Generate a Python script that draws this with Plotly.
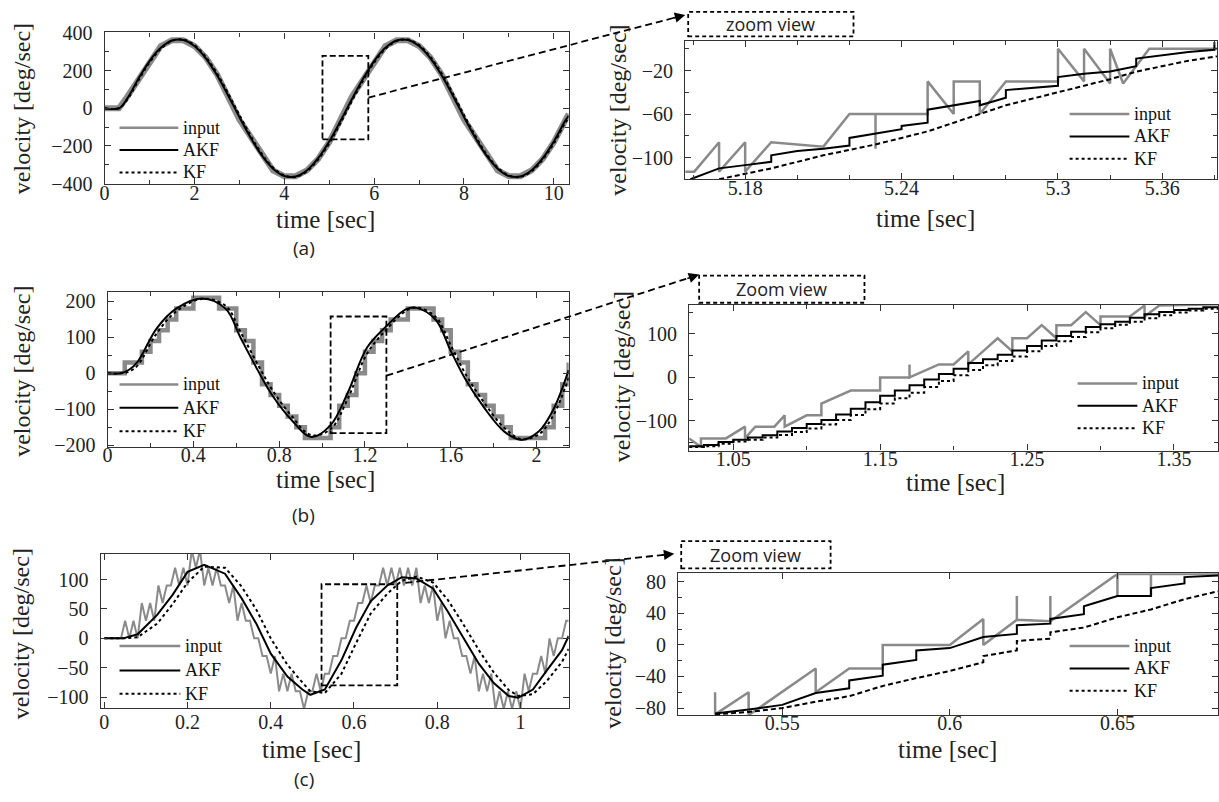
import plotly.graph_objects as go

W, H = 1219, 802

# ---------------- data ----------------
# (a) overview
a_t = [0, 0.32, 0.5, 0.75, 1.0, 1.25, 1.5, 1.75, 2.0, 2.25, 2.5, 2.75, 3.0, 3.25, 3.5, 3.75,
       4.0, 4.25, 4.5, 4.75, 5.0, 5.25, 5.5, 5.75, 6.0, 6.25, 6.5, 6.75, 7.0, 7.25, 7.5, 7.75,
       8.0, 8.25, 8.5, 8.75, 9.0, 9.25, 9.5, 9.75, 10.0, 10.25, 10.33]
a_input = [0, 0, 60, 150, 240, 330, 360, 360, 330, 270, 180, 60, -60, -150, -240, -330,
           -360, -360, -330, -270, -180, -60, 60, 150, 240, 330, 360, 360, 330, 270, 180, 60,
           -60, -150, -240, -330, -360, -360, -330, -270, -180, -60, -30]
a_akf = [0, 0, 50, 155, 250, 320, 359, 362, 330, 266, 176, 68, -46, -155, -250, -320,
         -359, -362, -330, -266, -176, -68, 46, 155, 250, 320, 359, 362, 330, 266, 176, 68,
         -46, -155, -250, -320, -359, -362, -330, -266, -176, -68, -40]
a_kf = [0, 0, 44, 146, 242, 315, 357, 364, 335, 273, 186, 79, -35, -145, -242, -314,
        -356, -364, -335, -273, -186, -79, 35, 145, 242, 314, 356, 364, 335, 273, 186, 79,
        -35, -145, -242, -314, -356, -364, -335, -273, -186, -79, -50]

# (a) zoom view
az_in_t = [5.157, 5.1605, 5.17, 5.17, 5.18, 5.18, 5.19, 5.21, 5.22, 5.23, 5.23, 5.23, 5.25, 5.25,
           5.26, 5.26, 5.27, 5.27, 5.28, 5.30, 5.30, 5.31, 5.31, 5.32, 5.32, 5.325, 5.335, 5.361]
az_in_v = [-113, -113, -86, -113, -86, -113, -86, -90, -60, -60, -92, -60, -60, -30,
           -60, -30, -30, -60, -30, -30, 0, -30, 0, -32, 0, -32, 0, 0]
az_akf_t = [5.159, 5.17, 5.18, 5.19, 5.19, 5.20, 5.21, 5.22, 5.22, 5.23, 5.24, 5.24, 5.25, 5.25, 5.26,
            5.27, 5.27, 5.28, 5.28, 5.29, 5.30, 5.30, 5.31, 5.32, 5.33, 5.33, 5.34, 5.35, 5.36, 5.36]
az_akf_v = [-120, -110, -107, -104, -98, -94, -92, -89, -82, -78, -74, -71, -68, -56, -52,
            -48, -52, -45, -38, -36, -34, -26, -23, -21, -16, -9, -6, -3, -1, 6]
az_kf_t = [5.17, 5.18, 5.19, 5.20, 5.21, 5.22, 5.23, 5.24, 5.25, 5.26, 5.27, 5.28, 5.29, 5.30,
           5.31, 5.32, 5.33, 5.34, 5.35, 5.361]
az_kf_v = [-120, -115, -110, -104, -98, -93, -88, -82, -76, -68, -60, -52, -46, -40,
           -34, -28, -21, -16, -11, -7]

# (b) overview
b_t = [0, 0.06, 0.10, 0.14, 0.23, 0.32, 0.44, 0.55, 0.62, 0.70, 0.77, 0.86, 0.95, 1.04,
       1.12, 1.21, 1.30, 1.39, 1.44, 1.53, 1.60, 1.67, 1.76, 1.85, 1.93, 2.01, 2.08, 2.15]
b_akf = [0, 0, 10, 32, 126, 180, 208, 180, 99, 9, -63, -131, -177, -144,
         -54, 72, 131, 178, 182, 149, 63, -18, -99, -162, -185, -162, -99, 9]
b_kf = [0, 0, 5, 22, 112, 172, 207, 188, 115, 25, -48, -120, -172, -155,
        -70, 55, 122, 173, 183, 157, 78, -3, -85, -152, -183, -170, -115, -12]
b_in_t = [0, 0.04, 0.08, 0.12, 0.16, 0.20, 0.24, 0.28, 0.32, 0.36, 0.40, 0.44, 0.48, 0.52,
          0.56, 0.60, 0.64, 0.68, 0.72, 0.76, 0.80, 0.84, 0.88, 0.92, 0.96, 1.00, 1.04, 1.08,
          1.12, 1.16, 1.20, 1.24, 1.28, 1.32, 1.36, 1.40, 1.44, 1.48, 1.52, 1.56, 1.60, 1.64,
          1.68, 1.72, 1.76, 1.80, 1.84, 1.88, 1.92, 1.96, 2.00, 2.04, 2.08, 2.12, 2.15]
b_in_v = [0, 0, 30, 30, 60, 90, 120, 150, 180, 180, 210, 210, 210, 180,
          180, 120, 90, 30, -30, -60, -90, -120, -150, -180, -180, -180, -150, -90,
          -60, 0, 60, 90, 120, 150, 150, 180, 180, 180, 150, 120, 60, 30,
          -30, -60, -90, -120, -150, -180, -180, -180, -180, -150, -90, -30, 30]

# (b) zoom view
bz_in_t = [1.020, 1.028, 1.028, 1.045, 1.058, 1.058, 1.065, 1.078, 1.085, 1.085, 1.10, 1.11, 1.11,
           1.13, 1.15, 1.15, 1.17, 1.17, 1.17, 1.19, 1.20, 1.21, 1.21, 1.22, 1.23, 1.24, 1.24,
           1.25, 1.26, 1.27, 1.27, 1.28, 1.29, 1.30, 1.30, 1.32, 1.33, 1.33, 1.34, 1.38]
bz_in_v = [-140, -160, -140, -140, -113, -140, -113, -113, -87, -113, -87, -87, -60,
           -30, -30, 0, 0, 30, 0, 30, 30, 60, 30, 60, 90, 60, 90,
           90, 120, 90, 120, 120, 150, 120, 140, 140, 165, 140, 165, 168]
bz_t = [1.02, 1.03, 1.04, 1.05, 1.06, 1.07, 1.08, 1.09, 1.10, 1.11, 1.12, 1.13, 1.14, 1.15,
        1.16, 1.17, 1.18, 1.19, 1.20, 1.21, 1.22, 1.23, 1.24, 1.25, 1.26, 1.27, 1.28, 1.29,
        1.30, 1.31, 1.32, 1.33, 1.34, 1.35, 1.36, 1.37, 1.38]
bz_akf = [-158, -155, -148, -143, -138, -133, -124, -116, -107, -98, -85, -72, -57, -42,
          -30, -18, -5, 8, 20, 33, 42, 52, 62, 72, 85, 95, 105, 116,
          122, 128, 137, 145, 150, 155, 158, 161, 163]
bz_kf = [-160, -158, -152, -147, -143, -138, -132, -125, -117, -108, -98, -86, -73, -60,
         -48, -35, -22, -8, 5, 17, 28, 38, 48, 60, 72, 83, 93, 104,
         113, 121, 128, 136, 143, 149, 154, 158, 162]

# (c) overview
c_t = [0, 0.045, 0.08, 0.127, 0.164, 0.2, 0.24, 0.29, 0.33, 0.366, 0.40, 0.44, 0.476, 0.495,
       0.53, 0.57, 0.605, 0.64, 0.68, 0.715, 0.75, 0.79, 0.825, 0.862, 0.90, 0.936, 0.972,
       0.995, 1.03, 1.064, 1.10, 1.116]
c_akf = [0, 0, 7, 40, 74, 113, 125, 110, 68, 24, -26, -65, -87, -96,
         -87, -37, 18, 63, 90, 104, 102, 85, 46, 2, -43, -76, -98,
         -101, -87, -54, -20, 4]
c_kf = [0, 0, 2, 25, 58, 95, 122, 120, 88, 48, 0, -45, -75, -90,
        -93, -60, -8, 42, 76, 98, 105, 95, 66, 25, -20, -58, -88,
        -98, -95, -72, -40, -18]
c_in_t = [0.00, 0.01, 0.02, 0.03, 0.04, 0.05, 0.06, 0.07, 0.08, 0.09,
          0.10, 0.11, 0.12, 0.13, 0.14, 0.15, 0.16, 0.17, 0.18, 0.19,
          0.20, 0.21, 0.22, 0.23, 0.24, 0.25, 0.26, 0.27, 0.28, 0.29,
          0.30, 0.31, 0.32, 0.33, 0.34, 0.35, 0.36, 0.37, 0.38, 0.39,
          0.40, 0.41, 0.42, 0.43, 0.44, 0.45, 0.46, 0.47, 0.48, 0.49,
          0.50, 0.51, 0.52, 0.53, 0.54, 0.55, 0.56, 0.57, 0.58, 0.59,
          0.60, 0.61, 0.62, 0.63, 0.64, 0.65, 0.66, 0.67, 0.68, 0.69,
          0.70, 0.71, 0.72, 0.73, 0.74, 0.75, 0.76, 0.77, 0.78, 0.79,
          0.80, 0.81, 0.82, 0.83, 0.84, 0.85, 0.86, 0.87, 0.88, 0.89,
          0.90, 0.91, 0.92, 0.93, 0.94, 0.95, 0.96, 0.97, 0.98, 0.99,
          1.00, 1.01, 1.02, 1.03, 1.04, 1.05, 1.06, 1.07, 1.08, 1.09,
          1.10, 1.11, 1.116]
c_in_v = [0, 0, 0, 0, 0, 30, 0, 30, 0, 60,
          30, 60, 30, 90, 60, 90, 90, 120, 90, 120,
          90, 150, 120, 150, 90, 120, 90, 120, 90, 90,
          60, 90, 30, 60, 30, 30, 0, 0, -30, -30,
          -60, -30, -90, -60, -90, -60, -90, -90, -120, -90,
          -90, -60, -90, -60, -60, -30, -30, 0, 0, 30,
          30, 60, 60, 90, 60, 90, 90, 120, 90, 120,
          90, 120, 90, 120, 90, 120, 60, 90, 60, 90,
          30, 60, 0, 30, 0, 0, -30, -30, -60, -30,
          -90, -60, -90, -60, -120, -90, -120, -90, -120, -90,
          -120, -60, -90, -60, -60, -30, -60, 0, -30, 0,
          0, 30, 30]

# (c) zoom view
cz_in_t = [0.53, 0.53, 0.54, 0.54, 0.56, 0.56, 0.57, 0.58, 0.58, 0.60, 0.61, 0.61, 0.62, 0.62,
           0.62, 0.63, 0.63, 0.63, 0.65, 0.65, 0.65, 0.66, 0.66, 0.66, 0.68]
cz_in_v = [-60, -88, -60, -89, -30, -60, -30, -30, 0, 0, 33, 0, 32, 62,
           32, 30, 62, 30, 90, 62, 90, 90, 62, 90, 90]
cz_akf_t = [0.53, 0.54, 0.55, 0.56, 0.57, 0.57, 0.58, 0.58, 0.59, 0.59, 0.60, 0.61, 0.62, 0.62,
            0.63, 0.63, 0.64, 0.64, 0.65, 0.66, 0.66, 0.67, 0.67, 0.68]
cz_akf_v = [-87, -82, -76, -61, -55, -45, -39, -25, -19, -7, -4, 10, 14, 25,
            27, 33, 39, 49, 62, 62, 72, 78, 86, 88]
cz_kf_t = [0.53, 0.54, 0.55, 0.56, 0.57, 0.58, 0.59, 0.60, 0.61, 0.61, 0.62, 0.62, 0.63, 0.63,
           0.64, 0.65, 0.66, 0.67, 0.68]
cz_kf_v = [-88, -85, -80, -72, -65, -52, -42, -33, -22, -14, -7, 5, 8, 16,
           22, 35, 45, 58, 68]

# zoom rectangles drawn on the overview plots (data coordinates)
rect_a = dict(x0=4.85, x1=5.87, y0=-165, y1=278)
rect_b = dict(x0=1.04, x1=1.30, y0=-166, y1=158)
rect_c = dict(x0=0.522, x1=0.704, y0=-80, y1=92)

series_names = ["input", "AKF", "KF"]

# ---------------- styling ----------------
GRAY = "#8a8a8a"
AX = "#333333"
SERIF = "Liberation Serif"
SANS = "Open Sans"


def pxx(x):
    return x / W


def pyy(y):
    return 1 - y / H


fig = go.Figure()


def add_panel(i, tin, vin, takf, vakf, tkf, vkf, in_w, in_shape, akf_shape, kf_shape, kf_dash):
    xa = "x" if i == 1 else f"x{i}"
    ya = "y" if i == 1 else f"y{i}"
    fig.add_trace(go.Scatter(x=tin, y=vin, mode="lines", name=series_names[0], showlegend=False,
                             line=dict(color=GRAY, width=in_w, shape=in_shape),
                             xaxis=xa, yaxis=ya))
    fig.add_trace(go.Scatter(x=takf, y=vakf, mode="lines", name=series_names[1], showlegend=False,
                             line=dict(color="black", width=2, shape=akf_shape),
                             xaxis=xa, yaxis=ya))
    fig.add_trace(go.Scatter(x=tkf, y=vkf, mode="lines", name=series_names[2], showlegend=False,
                             line=dict(color="black", width=2, shape=kf_shape, dash=kf_dash),
                             xaxis=xa, yaxis=ya))


add_panel(1, a_t, a_input, a_t, a_akf, a_t, a_kf, 6, "linear", "spline", "spline", "dot")
add_panel(2, az_in_t, az_in_v, az_akf_t, az_akf_v, az_kf_t, az_kf_v, 2.5, "linear", "linear", "linear", "5px,3px")
add_panel(3, b_in_t, b_in_v, b_t, b_akf, b_t, b_kf, 4.5, "hv", "spline", "spline", "dot")
add_panel(4, bz_in_t, bz_in_v, bz_t, bz_akf, bz_t, bz_kf, 2.5, "linear", "hv", "hv", "dot")
add_panel(5, c_in_t, c_in_v, c_t, c_akf, c_t, c_kf, 2, "linear", "linear", "linear", "dot")
add_panel(6, cz_in_t, cz_in_v, cz_akf_t, cz_akf_v, cz_kf_t, cz_kf_v, 2.5, "linear", "linear", "linear", "5px,3px")

common = dict(showline=True, linecolor=AX, linewidth=1.3, mirror="ticks", ticks="inside",
              ticklen=6, tickcolor=AX, showgrid=False, zeroline=False,
              tickfont=dict(family=SERIF, size=20, color="#222"))
minor = dict(ticks="inside", ticklen=4, tickcolor=AX, showgrid=False)

# pixel boxes of the six plots: (left, right, top, bottom)
boxes = {
    1: (100, 566, 22, 178),
    2: (683, 1217, 31, 173),
    3: (103, 566, 289, 448),
    4: (687, 1218, 302, 452),
    5: (96, 566, 558, 717),
    6: (676, 1218, 578, 724),
}


def dom(i):
    l, r, t, b = boxes[i]
    return [pxx(l), pxx(r)], [pyy(b), pyy(t)]


layout = {}
axes_cfg = {
    1: (dict(range=[0, 10.33], tickmode="linear", tick0=0, dtick=2, ticklabelstandoff=-9,
             minor=dict(minor, dtick=1)),
        dict(range=[-402, 402], tickmode="linear", tick0=0, dtick=200, minor=dict(minor, dtick=100))),
    2: (dict(range=[5.157, 5.361], tickmode="array", tickvals=[5.18, 5.24, 5.30, 5.34],
             ticktext=["5.18", "5.24", "5.3", "5.36"], ticklabelstandoff=-9,
             minor=dict(minor, tickvals=[5.16, 5.20, 5.22, 5.26, 5.28, 5.32, 5.36])),
        dict(range=[-120, 7], tickmode="array", tickvals=[-100, -60, -20],
             minor=dict(minor, tickvals=[-80, -40, 0]))),
    3: (dict(range=[0, 2.15], tickmode="array", tickvals=[0, 0.4, 0.8, 1.2, 1.6, 2.0],
             ticktext=["0", "0.4", "0.8", "1.2", "1.6", "2"], ticklabelstandoff=-10,
             minor=dict(minor, tickvals=[0.2, 0.6, 1.0, 1.4, 1.8])),
        dict(range=[-204, 226], tickmode="array", tickvals=[-200, -100, 0, 100, 200],
             minor=dict(minor, tickvals=[-150, -50, 50, 150]))),
    4: (dict(range=[1.02, 1.38], tickmode="array", tickvals=[1.05, 1.15, 1.25, 1.35],
             ticktext=["1.05", "1.15", "1.25", "1.35"], ticklabelstandoff=-10,
             minor=dict(minor, tickvals=[1.10, 1.20, 1.30])),
        dict(range=[-168, 167], tickmode="array", tickvals=[-100, 0, 100],
             minor=dict(minor, tickvals=[-150, -50, 50, 150]))),
    5: (dict(range=[-0.009, 1.116], tickmode="array", tickvals=[0, 0.2, 0.4, 0.6, 0.8, 1.0],
             ticktext=["0", "0.2", "0.4", "0.6", "0.8", "1"], ticklabelstandoff=-4),
        dict(range=[-119, 144], tickmode="array", tickvals=[-100, -50, 0, 50, 100])),
    6: (dict(range=[0.519, 0.680], tickmode="array", tickvals=[0.55, 0.60, 0.65],
             ticktext=["0.55", "0.6", "0.65"], ticklabelstandoff=-10),
        dict(range=[-89, 91], tickmode="array", tickvals=[-80, -40, 0, 40, 80],
             minor=dict(minor, tickvals=[-60, -20, 20, 60]))),
}

for i in range(1, 7):
    xd, yd = dom(i)
    xk = "xaxis" if i == 1 else f"xaxis{i}"
    yk = "yaxis" if i == 1 else f"yaxis{i}"
    xa = "x" if i == 1 else f"x{i}"
    ya = "y" if i == 1 else f"y{i}"
    xc, yc = axes_cfg[i]
    layout[xk] = dict(common, domain=xd, anchor=ya, **xc)
    layout[yk] = dict(common, domain=yd, anchor=xa, ticklabelstandoff=7, **yc)

annotations = []
shapes = []

# hand-placed legend keys, one block per plot: (line start, line end, rows y) in pixels
legend_blocks = [
    (115, 174, [120, 143, 166]),
    (1069, 1129, [106, 129, 152]),
    (115, 174, [384, 408, 432]),
    (1077, 1137, [383, 406, 429]),
    (115, 176, [653, 678, 702]),
    (1069, 1129, [653, 676, 699]),
]
key_styles = [dict(color=GRAY, width=2.5), dict(color="black", width=2),
              dict(color="black", width=2, dash="dot")]
for x0, x1, rows in legend_blocks:
    for name, style, yrow in zip(series_names, key_styles, rows):
        shapes.append(dict(type="line", xref="paper", yref="paper", x0=pxx(x0), x1=pxx(x1),
                           y0=pyy(yrow), y1=pyy(yrow), line=style))
        annotations.append(dict(text=name, x=pxx(x1 + 3), y=pyy(yrow), xref="paper", yref="paper",
                                showarrow=False, xanchor="left", yanchor="middle",
                                font=dict(family=SERIF, size=18, color="#111")))

# axis titles
ytitle_pos = [(17, 100), (616, 102), (17, 370), (619, 376), (17, 640), (611, 650)]
for (x, y) in ytitle_pos:
    annotations.append(dict(text="velocity [deg/sec]", x=pxx(x), y=pyy(y), xref="paper", yref="paper",
                            showarrow=False, textangle=-90, xanchor="center", yanchor="middle",
                            font=dict(family=SERIF, size=24, color="#222")))
xtitle_pos = [(322, 214), (924, 213), (322, 482), (954, 485), (308, 759), (946, 759)]
for (x, y) in xtitle_pos:
    annotations.append(dict(text="time [sec]", x=pxx(x), y=pyy(y), xref="paper", yref="paper",
                            showarrow=False, xanchor="center", yanchor="middle",
                            font=dict(family=SERIF, size=25, color="#222")))
# panel labels
for lab, y in [("(a)", 244), ("(b)", 518), ("(c)", 790)]:
    annotations.append(dict(text=lab, x=pxx(300), y=pyy(y), xref="paper", yref="paper",
                            showarrow=False, xanchor="center", yanchor="middle",
                            font=dict(family=SANS, size=19, color="#222")))

# zoom rectangles on the overview plots
for r, (xr, yr) in [(rect_a, ("x", "y")), (rect_b, ("x3", "y3")), (rect_c, ("x5", "y5"))]:
    shapes.append(dict(type="rect", xref=xr, yref=yr, x0=r["x0"], x1=r["x1"], y0=r["y0"], y1=r["y1"],
                       line=dict(color="black", width=1.8, dash="6px,3px"), fillcolor="rgba(0,0,0,0)"))

# dashed connector arrows and "zoom view" labels (pixel positions)
arrows = [((365, 89), (683, 4)), ((383, 375), (697, 271)), ((402, 588), (672, 558))]
for (x0, y0), (x1, y1) in arrows:
    shapes.append(dict(type="line", xref="paper", yref="paper", x0=pxx(x0), y0=pyy(y0),
                       x1=pxx(x1 - 6), y1=pyy(y1 + (y0 - y1) * 6 / (x1 - x0)),
                       line=dict(color="black", width=1.8, dash="7px,4px")))
    dx, dy = x1 - x0, y1 - y0
    n = (dx * dx + dy * dy) ** 0.5
    annotations.append(dict(text="", x=pxx(x1), y=pyy(y1), xref="paper", yref="paper",
                            showarrow=True, ax=-dx / n * 14, ay=-dy / n * 14,
                            arrowhead=2, arrowsize=1.3, arrowwidth=1.6, arrowcolor="black"))

zoom_boxes = [("zoom view", 686, 852, 1, 26), ("Zoom view", 697, 863, 272, 300), ("Zoom view", 679, 829, 545, 573)]
for txt, l, r, t, b in zoom_boxes:
    shapes.append(dict(type="rect", xref="paper", yref="paper", x0=pxx(l), x1=pxx(r), y0=pyy(b), y1=pyy(t),
                       line=dict(color="black", width=1.8, dash="4px,3px"), fillcolor="white"))
    annotations.append(dict(text=txt, x=pxx((l + r) / 2), y=pyy((t + b) / 2), xref="paper", yref="paper",
                            showarrow=False, xanchor="center", yanchor="middle",
                            font=dict(family=SANS, size=18, color="#222")))

fig.update_layout(width=W, height=H, margin=dict(l=0, r=0, t=0, b=0),
                  paper_bgcolor="white", plot_bgcolor="white", showlegend=False,
                  font=dict(family=SERIF, color="#222"),
                  annotations=annotations, shapes=shapes, **layout)

fig.write_html("out.html")
